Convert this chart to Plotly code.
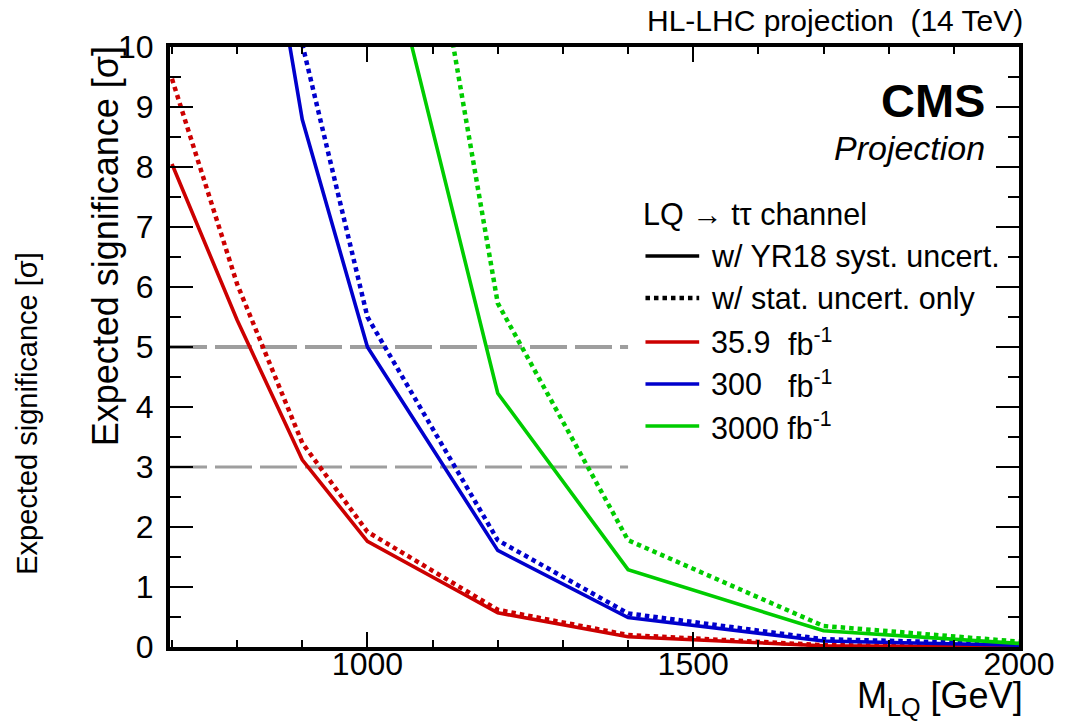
import plotly.graph_objects as go

# LQ -> t tau expected significance vs. leptoquark mass
mass = [700, 800, 900, 1000, 1200, 1400, 1700, 2000]

# 35.9 fb^-1
sig_359_syst = [8.05, 5.45, 3.12, 1.76, 0.57, 0.17, 0.02, 0.00]
sig_359_stat = [9.47, 6.05, 3.40, 1.92, 0.62, 0.20, 0.03, 0.01]
# 300 fb^-1
sig_300_syst = [None, 15.2, 8.79, 5.00, 1.61, 0.49, 0.10, 0.03]
sig_300_stat = [None, None, 10.05, 5.50, 1.78, 0.56, 0.13, 0.05]
# 3000 fb^-1
sig_3000_syst = [None, None, None, 13.0, 4.23, 1.29, 0.27, 0.06]
sig_3000_stat = [None, None, None, 18.3, 5.73, 1.78, 0.35, 0.09]

# reference significance levels
ref_levels = [5, 3]
ref_x = [697, 1400]

RED, BLUE, GREEN = "#cc0000", "#0000cc", "#00cc00"
GRAY = "#9e9e9e"
FONT = "Liberation Sans, Arial, Helvetica, sans-serif"

W, H = 1067, 728
X0, X1 = 170, 1023.5   # plot area in pixels
Y1, Y0 = 47, 647


def px(xp):
    return (xp - X0) / (X1 - X0)


def py(yp):
    return (Y0 - yp) / (Y0 - Y1)


fig = go.Figure()

for lvl, lw in zip(ref_levels, [4, 3]):
    fig.add_trace(go.Scatter(x=ref_x, y=[lvl, lvl], mode="lines",
                             line=dict(color=GRAY, width=lw, dash="37px,8px"),
                             showlegend=False, hoverinfo="skip"))

DOT = "4.5px,4px"
series = [
    (sig_359_syst, RED, "solid", 3.6), (sig_359_stat, RED, DOT, 4.5),
    (sig_300_syst, BLUE, "solid", 3.6), (sig_300_stat, BLUE, DOT, 4.5),
    (sig_3000_syst, GREEN, "solid", 3.6), (sig_3000_stat, GREEN, DOT, 4.5),
]
for vals, col, dash, lw in series:
    fig.add_trace(go.Scatter(x=mass, y=vals, mode="lines",
                             line=dict(color=col, width=lw, dash=dash),
                             showlegend=False, connectgaps=False))

axis_common = dict(showline=True, linecolor="black", linewidth=4, mirror="allticks",
                   ticks="inside", tickcolor="black", tickwidth=2,
                   showgrid=False, zeroline=False,
                   tickfont=dict(family=FONT, size=32, color="black"))

fig.update_xaxes(range=[697, 2000], tickvals=[1000, 1500, 2000], ticklen=15,
                 minor=dict(dtick=100, ticklen=7, tickwidth=2, ticks="inside",
                            tickcolor="black"),
                 ticklabelstandoff=-14, **axis_common)
fig.update_yaxes(range=[0, 10], dtick=1, ticklen=23,
                 minor=dict(dtick=0.5, ticklen=11, tickwidth=2, ticks="inside",
                            tickcolor="black"),
                 ticklabelstandoff=6, **axis_common)

ann = []


def text(s, x, y, size, xanchor="left", angle=0, **kw):
    ann.append(dict(text=s, x=px(x), y=py(y), xref="paper", yref="paper",
                    xanchor=xanchor, yanchor="middle", showarrow=False,
                    textangle=angle, borderpad=0,
                    font=dict(family=FONT, size=size, color="black", **kw)))


text("HL-LHC projection  (14 TeV)", 1029, 20, 30, xanchor="right")
text("<b>CMS</b>", 990, 100, 47, xanchor="right")
text("<i>Projection</i>", 990, 148, 34, xanchor="right")
text("M<sub>LQ</sub> [GeV]", 1029, 698, 36, xanchor="right")
text("Expected significance [σ]", 105, 246, 36, xanchor="center", angle=-90)
text("Expected significance [σ]", 26, 413, 29, xanchor="center", angle=-90)

# legend block
text("LQ → tτ channel", 644, 214, 30.5)
legend_rows = [
    (256, "black", "solid", "w/ YR18 syst. uncert.", 3.6),
    (298, "black", DOT, "w/ stat. uncert. only", 4.5),
    (342, RED, "solid", None, 3.6),
    (384, BLUE, "solid", None, 3.6),
    (426, GREEN, "solid", None, 3.6),
]
shapes = []
for yy, col, dash, lab, lw in legend_rows:
    shapes.append(dict(type="line", xref="paper", yref="paper",
                       x0=px(648), x1=px(702), y0=py(yy), y1=py(yy),
                       line=dict(color=col, width=lw, dash=dash)))
    if lab:
        text(lab, 713, yy, 30.5)
text("35.9", 713, 342, 30.5)
text("fb<sup>-1</sup>", 790, 342, 30.5)
text("300", 713, 384, 30.5)
text("fb<sup>-1</sup>", 790, 384, 30.5)
text("3000 fb<sup>-1</sup>", 713, 426, 30.5)

fig.update_layout(width=W, height=H, autosize=False,
                  margin=dict(l=X0, r=W - X1, t=Y1, b=H - Y0),
                  paper_bgcolor="white", plot_bgcolor="white",
                  annotations=ann, shapes=shapes, showlegend=False)

fig.write_html("out.html")
